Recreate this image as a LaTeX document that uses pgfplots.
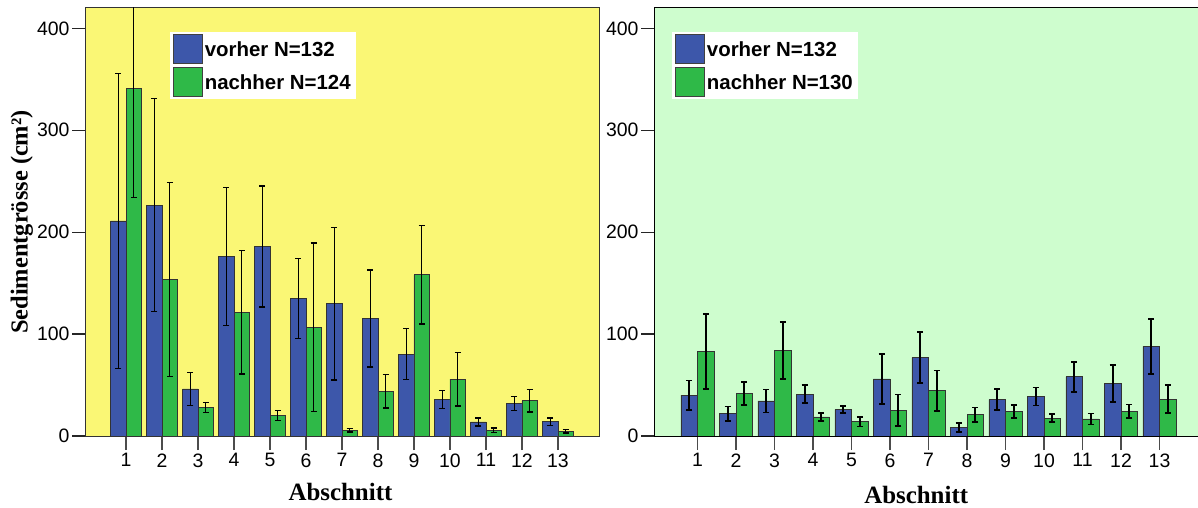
\documentclass[border=0pt]{standalone}
\usepackage{pgfplots}
\usepackage{pgfplotstable}
\pgfplotsset{compat=1.18}
\usepackage{fontspec}
\setmainfont{Liberation Sans}
\newfontfamily\serifb{Liberation Serif}

\definecolor{bblue}{RGB}{61,87,170}
\definecolor{ggreen}{RGB}{47,185,72}
\definecolor{yellowbg}{RGB}{250,247,117}
\definecolor{greenbg}{RGB}{206,253,206}

\pgfplotstableread{
x y e
1 211 145
2 226.6 104.6
3 46.2 16
4 176.2 67.6
5 186 59.3
6 135 39.3
7 130 74.9
8 115.3 47.5
9 80.3 25
10 36 8.8
11 13.8 4
12 31.8 6.9
13 14.1 3.6
}\leftblue
\pgfplotstableread{
x y e
1 341.3 107.5
2 153.6 95.5
3 28.2 5
4 121.5 60.8
5 20 4.7
6 106.8 82.7
7 5.6 1.8
8 43.9 16.3
9 158.2 48.2
10 55.7 26.2
11 5.6 2.3
12 34.7 11.1
13 4.6 1.8
}\leftgreen
\pgfplotstableread{
x y e
1 40 14.4
2 22 6.9
3 34.4 11.3
4 41 8.8
5 25.9 3.3
6 56 24.4
7 77 24.9
8 8.2 4.6
9 35.8 10.6
10 38.7 8.8
11 58 14.6
12 51.5 18.5
13 87.9 27
}\rightblue
\pgfplotstableread{
x y e
1 82.9 37
2 41.7 11.5
3 83.9 28.3
4 18.7 4.1
5 14.2 4.8
6 25.3 15.4
7 44.6 19.7
8 21 7
9 24.3 6.5
10 17.4 4
11 16.7 5.4
12 24.3 6.7
13 36.1 13.7
}\rightgreen

\pgfplotsset{
  panel/.style={
    scale only axis,
    height=428bp,
    ybar=0pt,
    bar width=0.43,
    ymin=0, ymax=420,
    ytick={0,100,200,300,400},
    xtick={1,...,13},
    tick align=outside,
    tick pos=left,
    major tick length=13bp,
    x tick style={black!70, line width=1.2bp, /pgfplots/major tick length=14bp},
    y tick style={black!85, line width=1.2bp},
    axis line style={black!80, line width=1bp},
    /pgf/number format/assume math mode=true,
    tick label style={font=\fontsize{19.5}{22}\selectfont},
    xticklabel style={yshift=-1bp},
    yticklabel style={xshift=1bp},
    xlabel={Abschnitt},
    xlabel style={font=\serifb\bfseries\fontsize{25}{29}\selectfont, anchor=center},
    legend cell align=left,
    legend style={fill=white, draw=none, inner xsep=3bp, inner ysep=2bp,
      font=\bfseries\fontsize{20.5}{24}\selectfont, row sep=3bp,
      anchor=north west},
    legend image code/.code={\draw[##1, draw=black!75, line width=0.8bp] (0bp,-14bp) rectangle (29bp,15bp);},
  },
  bstyle/.style={draw=black!80, line width=0.8bp,
    error bars/y dir=both, error bars/y explicit,
    error bars/error bar style={black, line width=#1},
    error bars/error mark options={black, line width=#1, mark size=3bp, rotate=90}},
}

\begin{document}
\begin{tikzpicture}
\path[use as bounding box] (0,0) rectangle (1198bp,508bp);

\begin{axis}[panel,
  at={(85bp,72bp)}, anchor=south west,
  width=514bp,
  xmin=-0.14, xmax=14.14,
  axis background/.style={fill=yellowbg},
  xlabel style={at={(axis description cs:0.497,0)}, yshift=-56bp},
  ylabel={Sedimentgrösse (cm²)},
  ylabel style={font=\serifb\bfseries\fontsize{24.5}{28}\selectfont, at={(axis description cs:-0.123,0.5)}, anchor=center, rotate=0},
  legend style={at={(axis description cs:0.165,0.944)}},
]
\addplot[bstyle=1.3bp, fill=bblue] table[x=x, y=y, y error=e] {\leftblue};
\addplot[bstyle=1.3bp, fill=ggreen] table[x=x, y=y, y error=e] {\leftgreen};
\legend{vorher N=132, nachher N=124}
\end{axis}

\begin{axis}[panel,
  at={(654bp,72bp)}, anchor=south west,
  width=544bp,
  xmin=-0.13, xmax=14.0,
  axis background/.style={fill=greenbg},
  axis line style={black, line width=1bp},
  xlabel style={at={(axis description cs:0.482,0)}, yshift=-59bp},
  legend style={at={(axis description cs:0.033,0.944)}},
]
\addplot[bstyle=1.8bp, fill=bblue] table[x=x, y=y, y error=e] {\rightblue};
\addplot[bstyle=1.8bp, fill=ggreen] table[x=x, y=y, y error=e] {\rightgreen};
\legend{vorher N=132, nachher N=130}
\end{axis}
\end{tikzpicture}
\end{document}
